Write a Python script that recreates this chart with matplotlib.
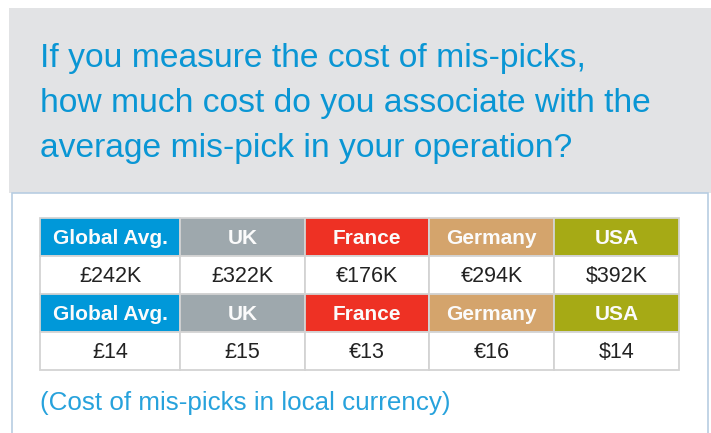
import matplotlib.pyplot as plt
from matplotlib.patches import Rectangle

plt.rcParams['font.family'] = ['Liberation Sans', 'DejaVu Sans']

# Data
countries = ['Global Avg.', 'UK', 'France', 'Germany', 'USA']
total_cost = ['£242K', '£322K', '€176K', '€294K', '$392K']
cost_per_mispick = ['£14', '£15', '€13', '€16', '$14']
header_colors = ['#0098d9', '#9ea8ad', '#ee3124', '#d4a46c', '#a6aa15']

title_lines = ['If you measure the cost of mis-picks,',
               'how much cost do you associate with the',
               'average mis-pick in your operation?']
footnote = '(Cost of mis-picks in local currency)'

W, H = 711, 433
fig = plt.figure(figsize=(W / 100, H / 100), dpi=100)
ax = fig.add_axes([0, 0, 1, 1])
ax.set_xlim(0, W)
ax.set_ylim(H, 0)
ax.axis('off')

# panels
ax.add_patch(Rectangle((9, 8), W - 9, 185, facecolor='#e2e3e5', edgecolor='none'))
ax.add_patch(Rectangle((11.5, 193), 696, 260, facecolor='white', edgecolor='#b7cde2', lw=1.2))

title_color = '#0a96d4'
for i, line in enumerate(title_lines):
    ax.text(40, 67 + i * 45, line, fontsize=24.2, color=title_color, va='baseline', ha='left')

# table
col_edges = [40, 180, 305, 429, 554, 679]
row_edges = [218, 256, 294, 332, 370]
rows = [('head', None), ('val', total_cost), ('head', None), ('val', cost_per_mispick)]
for r, (kind, vals) in enumerate(rows):
    y0, y1 = row_edges[r], row_edges[r + 1]
    for c, name in enumerate(countries):
        x0, x1 = col_edges[c], col_edges[c + 1]
        if kind == 'head':
            ax.add_patch(Rectangle((x0, y0), x1 - x0, y1 - y0, facecolor=header_colors[c],
                                   edgecolor='#d3d3d3', lw=1.3))
            ax.text((x0 + x1) / 2, (y0 + y1) / 2 + 1, name, color='#fbfbfb', fontsize=15,
                    fontweight='bold', ha='center', va='center')
        else:
            ax.add_patch(Rectangle((x0, y0), x1 - x0, y1 - y0, facecolor='white',
                                   edgecolor='#d3d3d3', lw=1.3))
            ax.text((x0 + x1) / 2, (y0 + y1) / 2 + 1, vals[c], color='#222222', fontsize=15.5,
                    ha='center', va='center')

ax.text(40, 403, footnote, color='#27a2dc', fontsize=18.7, ha='left', va='center')

plt.savefig('out.png', dpi=100)
plt.close()
